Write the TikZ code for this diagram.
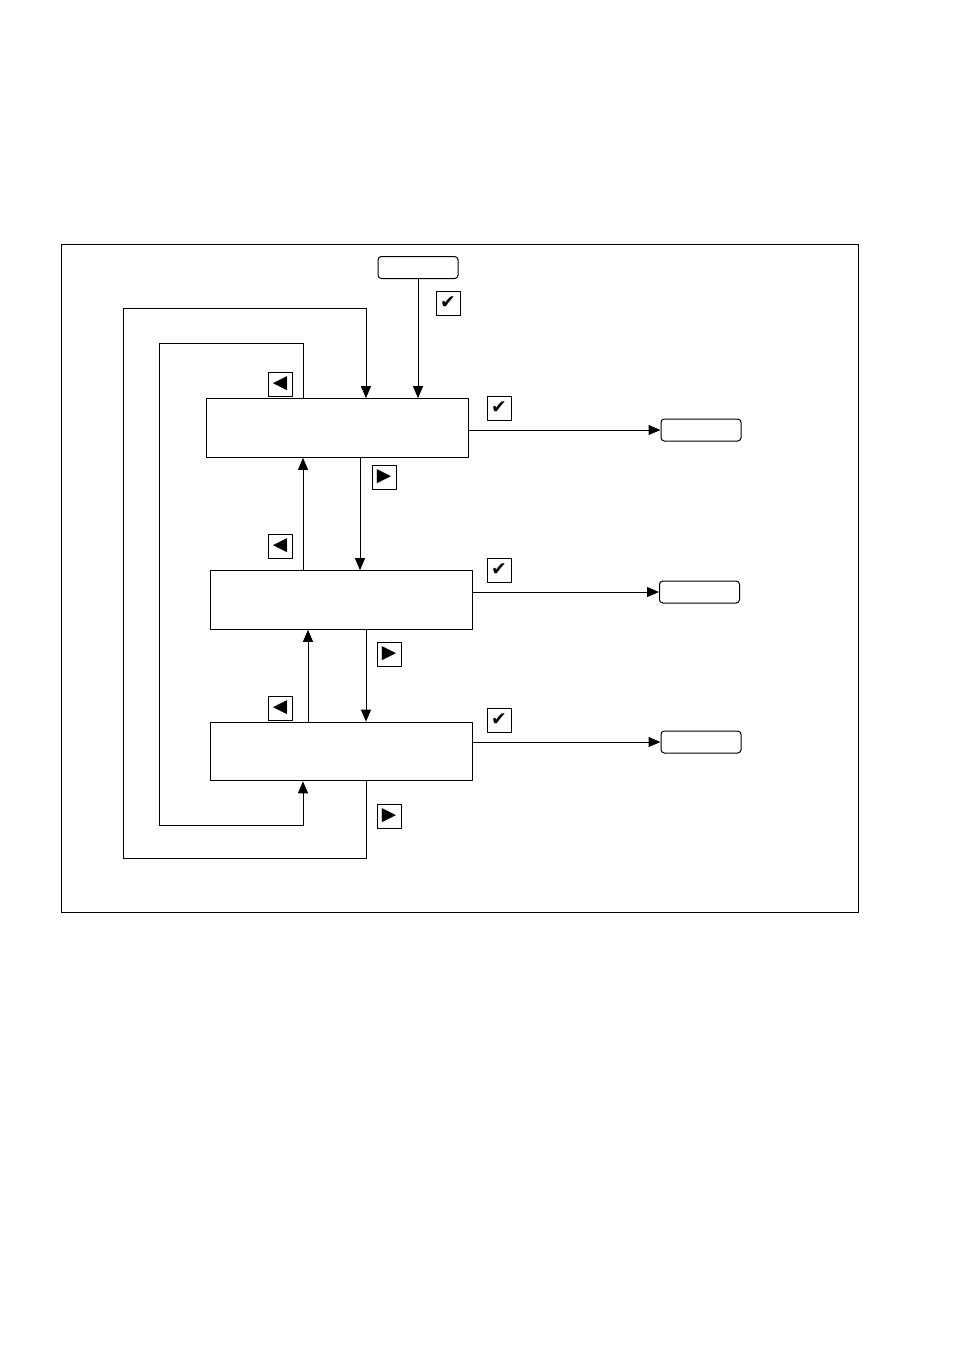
\documentclass[tikz,border=0pt]{standalone}
\usepackage{fontspec}
\newfontfamily\symfont{DejaVu Sans}
\usetikzlibrary{arrows.meta,positioning,calc}

\begin{document}
\begin{tikzpicture}[
    x=0.75pt, y=-0.75pt,
    line width=0.75pt,
    state/.style={draw, minimum width=196.5pt, minimum height=44pt, inner sep=0pt},
    endbox/.style={draw, rounded corners=2.5pt, minimum width=60pt, minimum height=16.5pt, inner sep=0pt},
    key/.style={draw, minimum size=18pt, inner sep=0pt, font=\symfont\fontsize{14}{14}\selectfont},
    flow/.style={-{Triangle[length=9pt,width=7.5pt]}},
]
\useasboundingbox (0,0) rectangle (954,1350);
\draw (61,244) rectangle (858,912);

% menu states
\node[endbox] (start) at (418,267.5) {};
\node[state] (menuA) at (337,428) {};
\node[state] (menuB) at (341,600) {};
\node[state] (menuC) at (341,751.5) {};
\node[endbox] (exitA) at (701,430) {};
\node[endbox] (exitB) at (699.5,592) {};
\node[endbox] (exitC) at (701,742) {};

% keys
\node[key] (okS) at (448,303) {✔};
\node[key] (okA) at (499,408) {✔};
\node[key] (okB) at (499,570) {✔};
\node[key] (okC) at (499,720) {✔};
\foreach \n/\y in {A/384, B/546, C/708}
    \node[key] (left\n) at (280,\y) {◀};
\node[key] (rightA) at (384,477) {▶};
\node[key] (rightB) at (389,654) {▶};
\node[key] (rightC) at (389,816) {▶};

% connectors
\draw[flow] (start) -- (menuA.north -| start);
\draw[flow] (menuA.east |- exitA) -- (exitA);
\draw[flow] (menuB.east |- exitB) -- (exitB);
\draw[flow] (menuC.east |- exitC) -- (exitC);
\draw[flow] (menuA.south -| 360,0) -- (menuB.north -| 360,0);
\draw[flow] (menuB.north -| 303,0) -- (menuA.south -| 303,0);
\draw[flow] (menuB.south -| 366,0) -- (menuC.north -| 366,0);
\draw[flow] (menuC.north -| 308,0) -- (menuB.south -| 308,0);

% wrap-around loops
\coordinate (outerBL) at (123,858);
\coordinate (outerTL) at (123,308);
\coordinate (innerTL) at (159,343);
\coordinate (innerBL) at (159,825);
\draw[flow] (menuC.south -| 366,0) -- (outerBL -| 366,0) -- (outerBL)
    -- (outerTL) -- (outerTL -| 366,0) -- (menuA.north -| 366,0);
\draw[flow] (menuA.north -| 303,0) -- (innerTL -| 303,0) -- (innerTL)
    -- (innerBL) -- (innerBL -| 303,0) -- (menuC.south -| 303,0);
\end{tikzpicture}
\end{document}
